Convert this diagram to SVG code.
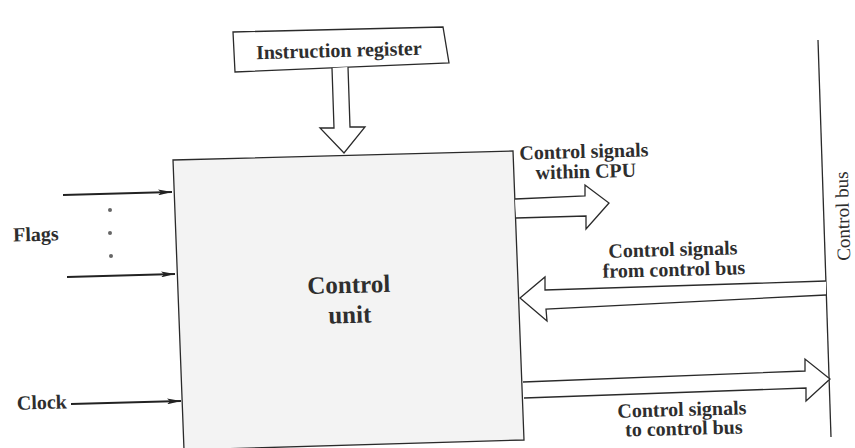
<svg xmlns="http://www.w3.org/2000/svg" width="855" height="448" viewBox="0 0 855 448">
  <style>
    .box { fill: #ffffff; stroke: #2a2a2a; stroke-width: 1.3; }
    .unit { fill: #f3f3f3; stroke: #2a2a2a; stroke-width: 1.3; }
    .hollow { fill: #ffffff; stroke: #2a2a2a; stroke-width: 1.3; stroke-linejoin: miter; }
    .wire { fill: none; stroke: #222; stroke-width: 1.8; }
    .bus { fill: none; stroke: #2a2a2a; stroke-width: 1.3; }
    .lbl { font-family: "Liberation Serif", "Times New Roman", serif; font-weight: bold; font-size: 20px; fill: #2e2e2e; text-anchor: middle; }
    .big { font-size: 25px; }
    .plain { font-weight: normal; font-size: 19px; }
    .dot { fill: #666; }
  </style>
  <defs>
    <marker id="head" viewBox="0 0 14 6" refX="14" refY="3" markerWidth="14" markerHeight="6" markerUnits="userSpaceOnUse" orient="auto">
      <path d="M0,0 L14,3 L0,6 L3,3 Z" fill="#222"/>
    </marker>
  </defs>

  <rect width="855" height="448" fill="#ffffff"/>

  <!-- control bus line -->
  <g id="control-bus">
    <line class="bus" x1="818" y1="40" x2="831" y2="437"/>
    <text class="lbl plain" transform="translate(849 216) rotate(-91.6)">Control bus</text>
  </g>

  <!-- instruction register -->
  <g id="instruction-register">
    <polygon class="box" points="233,32 443,27 449,63 235,72"/>
    <text class="lbl" transform="translate(339 57) rotate(-1.5)">Instruction register</text>
  </g>

  <!-- control unit -->
  <g id="control-unit">
    <polygon class="unit" points="173,160 513,151 524,440 184,450"/>
    <text class="lbl big" transform="translate(349 293) rotate(-1.5)">Control</text>
    <text class="lbl big" transform="translate(350 323) rotate(-1.5)">unit</text>
  </g>

  <!-- input labels -->
  <g id="flags">
    <text class="lbl" x="36" y="241" transform="rotate(-1.5 36 241)">Flags</text>
    <circle class="dot" cx="110" cy="210" r="2"/>
    <circle class="dot" cx="110" cy="233" r="2"/>
    <circle class="dot" cx="111" cy="256" r="2"/>
  </g>
  <g id="clock">
    <text class="lbl" x="42" y="409" transform="rotate(-1.5 42 409)">Clock</text>
  </g>

  <!-- output labels -->
  <g id="signals-within-cpu">
    <text class="lbl" transform="translate(584 158) rotate(-1.5)">Control signals</text>
    <text class="lbl" transform="translate(586 178) rotate(-1.5)">within CPU</text>
  </g>
  <g id="signals-from-bus">
    <text class="lbl" transform="translate(673 256) rotate(-1.5)">Control signals</text>
    <text class="lbl" transform="translate(674 276) rotate(-1.5)">from control bus</text>
  </g>
  <g id="signals-to-bus">
    <text class="lbl" transform="translate(682 416) rotate(-1.5)">Control signals</text>
    <text class="lbl" transform="translate(684 435) rotate(-1.5)">to control bus</text>
  </g>

  <!-- connectors -->
  <g id="connectors">
    <polyline class="hollow" points="332,68 334,128 320,128 344,153 365,127 350,127 348,67"/>
    <polyline class="hollow" points="515,199 585,196 585,185 609,203 586,229 586,216 516,218"/>
    <polyline class="hollow" points="826,281 545,290 545,277 520,298 547,321 546,309 826,295"/>
    <polyline class="hollow" points="523,382 805,371 805,359 830,379 806,401 806,388 524,398"/>
    <line class="wire" x1="63" y1="195" x2="172" y2="192" marker-end="url(#head)"/>
    <line class="wire" x1="67" y1="277" x2="175" y2="274" marker-end="url(#head)"/>
    <line class="wire" x1="71" y1="404" x2="181" y2="401" marker-end="url(#head)"/>
  </g>
</svg>
